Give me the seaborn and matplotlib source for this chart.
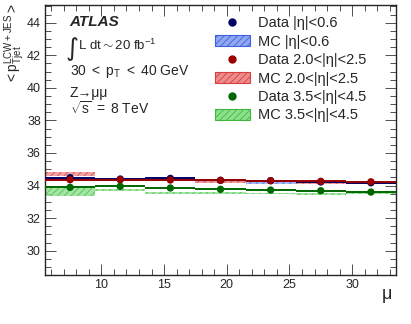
import matplotlib
matplotlib.use('Agg')
import numpy as np
import pandas as pd
import matplotlib.pyplot as plt
import seaborn as sns
from matplotlib.lines import Line2D
from matplotlib.patches import Patch

# mu bins
bin_lo = [5.5, 9.5, 13.5, 17.5, 21.5, 25.5, 29.5]
bin_hi = [9.5, 13.5, 17.5, 21.5, 25.5, 29.5, 33.5]
mu = [7.5, 11.5, 15.5, 19.5, 23.5, 27.5, 31.5]

# data, <pT jet> per eta region
data_c = [34.48, 34.40, 34.44, 34.32, 34.30, 34.22, 34.17]
data_f = [34.36, 34.36, 34.34, 34.32, 34.30, 34.26, 34.23]
data_vf = [33.89, 33.95, 33.85, 33.77, 33.72, 33.68, 33.60]

# MC central value and error
mc_c = [34.42, 34.36, 34.40, 34.28, 34.14, 34.20, 34.12]
mc_c_err = [0.06, 0.05, 0.06, 0.05, 0.05, 0.05, 0.05]
mc_f = [34.70, 34.32, 34.36, 34.19, 34.28, 34.15, 34.20]
mc_f_err = [0.14, 0.04, 0.06, 0.06, 0.04, 0.06, 0.04]
mc_vf = [33.66, 33.72, 33.56, 33.54, 33.50, 33.48, 33.50]
mc_vf_err = [0.28, 0.05, 0.05, 0.05, 0.04, 0.05, 0.05]

labels_data = ['Data |η|<0.6', 'Data 2.0<|η|<2.5', 'Data 3.5<|η|<4.5']
labels_mc = ['MC |η|<0.6', 'MC 2.0<|η|<2.5', 'MC 3.5<|η|<4.5']
dark = ['#000066', '#990000', '#006600']
light = ['#8fa8f0', '#ec8c8c', '#8ce08c']
hatch_col = ['#4060e0', '#d84040', '#40b840']

sns.set_style('ticks')
plt.rcParams['font.family'] = ['Liberation Sans', 'DejaVu Sans']
plt.rcParams['mathtext.fontset'] = 'custom'
plt.rcParams['mathtext.rm'] = 'Liberation Sans'
plt.rcParams['mathtext.it'] = 'Liberation Sans:italic'
plt.rcParams['mathtext.bf'] = 'Liberation Sans:bold'
plt.rcParams['hatch.linewidth'] = 0.6

fig = plt.figure(figsize=(4.11, 3.24), dpi=100)
ax = fig.add_axes([0.1095, 0.151, 0.854, 0.834])

width = np.array(bin_hi) - np.array(bin_lo)
for vals, errs, i in [(mc_c, mc_c_err, 0), (mc_f, mc_f_err, 1), (mc_vf, mc_vf_err, 2)]:
    v = np.array(vals); e = np.array(errs)
    ax.bar(mu, 2 * e, bottom=v - e, width=width, color=light[i], alpha=0.8,
           edgecolor=hatch_col[i], linewidth=0, hatch='/////', zorder=1)

df = pd.DataFrame({
    'mu': mu * 3,
    'pt': data_c + data_f + data_vf,
    'region': [labels_data[0]] * 7 + [labels_data[1]] * 7 + [labels_data[2]] * 7,
})
for i, vals in enumerate([data_c, data_f, data_vf]):
    ax.hlines(vals, bin_lo, bin_hi, colors=dark[i], linewidth=1.4, zorder=3 + i)
sns.scatterplot(data=df, x='mu', y='pt', hue='region', palette=dark, s=28,
                edgecolor='none', legend=False, ax=ax, zorder=6)

ax.set_xlim(5.5, 33.5)
ax.set_ylim(28.5, 45.1)
ax.set_xticks([10, 15, 20, 25, 30])
ax.set_yticks([30, 32, 34, 36, 38, 40, 42, 44])
ax.xaxis.set_minor_locator(matplotlib.ticker.MultipleLocator(1))
ax.yaxis.set_minor_locator(matplotlib.ticker.MultipleLocator(0.5))
ax.tick_params(which='both', direction='in', top=True, right=True, labelsize=9,
               color='#333333')
ax.tick_params(which='major', length=8, width=0.6, pad=3)
ax.tick_params(which='minor', length=4, width=0.6)
ax.set_xlabel('')
ax.set_ylabel('')
for s in ax.spines.values():
    s.set_linewidth(1.0)

fig.text(0.955, 0.065, 'μ', fontsize=13, ha='right', va='bottom')
fig.text(0.005, 0.99, r'$<\mathrm{p}_{\mathrm{T jet}}^{\mathrm{LCW+JES}}>$', fontsize=10,
         rotation=90, ha='left', va='top')

tx = 0.07
ax.text(tx, 0.935, 'ATLAS', transform=ax.transAxes, fontsize=11,
        fontweight='bold', fontstyle='italic', va='center')
ax.text(tx - 0.01, 0.835, '∫', transform=ax.transAxes, fontsize=18, va='center',
        family='DejaVu Sans')
ax.text(tx + 0.025, 0.85, r'$\mathrm{L\ dt} \sim \mathrm{20\ fb}^{-1}$', transform=ax.transAxes,
        fontsize=9.5, va='center')
ax.text(tx, 0.752, r'$\mathrm{30\ <\ p_{T}\ <\ 40\ GeV}$', transform=ax.transAxes,
        fontsize=10, va='center')
ax.text(tx, 0.674, 'Z→μμ', transform=ax.transAxes, fontsize=10, va='center')
ax.text(tx, 0.615, r'$\sqrt{\mathrm{s}}\mathrm{\ =\ 8\ TeV}$', transform=ax.transAxes,
        fontsize=10, va='center')

handles = []
labels = []
for i in range(3):
    handles.append(Line2D([], [], marker='o', color=dark[i], linestyle='none', markersize=5))
    labels.append(labels_data[i])
    handles.append(Patch(facecolor=light[i], edgecolor=hatch_col[i], hatch='/////', linewidth=0.8))
    labels.append(labels_mc[i])
ax.legend(handles, labels, loc='upper left', bbox_to_anchor=(0.455, 0.995), frameon=False,
          fontsize=10.5, handlelength=2.4, handleheight=0.8, labelspacing=0.3,
          handletextpad=0.55, borderaxespad=0.3)

fig.savefig('out.png', dpi=100)
